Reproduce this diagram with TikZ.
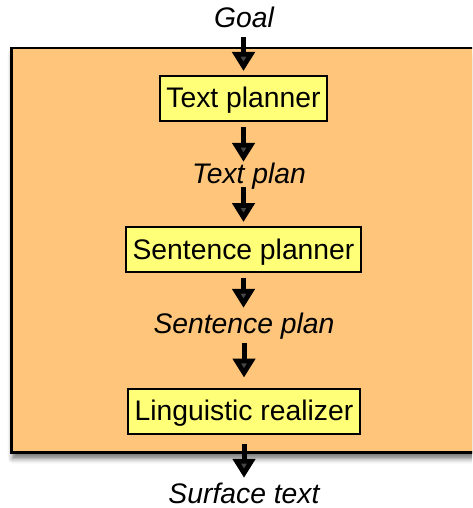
\documentclass[tikz,border=0pt]{standalone}
\usepackage{fontspec}
\setmainfont{Liberation Sans}
\usetikzlibrary{arrows.meta,shadows.blur}

\definecolor{panelfill}{RGB}{254,197,123}
\definecolor{stagefill}{RGB}{255,255,120}

\tikzset{
  panel/.style={draw=black, line width=2.5pt, fill=panelfill,
    blur shadow={shadow xshift=1pt, shadow yshift=-6pt,
                 shadow blur radius=5pt, shadow opacity=55}},
  stagebox/.style={draw=black, line width=2pt, fill=stagefill,
    inner sep=0pt, minimum height=45pt, text height=22pt, text depth=3pt,
    align=center, font=\fontsize{28.3}{33}\selectfont},
  datalabel/.style={inner sep=0pt, text height=20pt, text depth=6pt,
    anchor=base, font=\fontsize{28.3}{33}\selectfont\itshape},
  flow/.style={line width=5pt, -{Triangle[width=22pt,length=19pt]}}
}

\begin{document}
\begin{tikzpicture}[x=1pt,y=-1pt]
  \useasboundingbox (0,0) rectangle (472,508);
  \clip (0,0) rectangle (472,508);

  % generation pipeline container
  \draw[panel] (11.5,48) rectangle (490,452.5);

  % stages
  \node[stagebox, minimum width=167pt] (tp) at (243.5,98.5) {Text planner};
  \node[stagebox, minimum width=235pt] (sp) at (243.5,249.5) {Sentence planner};
  \node[stagebox, minimum width=232pt] (lr) at (244,411) {Linguistic realizer};

  % intermediate representations
  \node[datalabel] (goal) at (244,28) {Goal};
  \node[datalabel] (tplan) at (249,183) {Text plan};
  \node[datalabel] (splan) at (244,333) {Sentence plan};
  \node[datalabel] (surf) at (244,503) {Surface text};

  % data flow
  \draw[flow, shorten <=3pt, shorten >=4pt] (goal.south -| tp.north) -- (tp.north);
  \draw[flow, shorten <=5pt, shorten >=1pt] (tp.south) -- (tp.south |- tplan.north);
  \draw[flow, shorten <=-2pt, shorten >=4pt] (tplan.south -| sp.north) -- (sp.north);
  \draw[flow, shorten <=5pt, shorten >=5pt] (sp.south) -- (sp.south |- splan.north);
  \draw[flow, shorten <=4pt, shorten >=10pt] (splan.south -| lr.north) -- (lr.north);
  \draw[flow, shorten <=9pt, shorten >=5pt] (lr.south) -- (lr.south |- surf.north);
\end{tikzpicture}
\end{document}
